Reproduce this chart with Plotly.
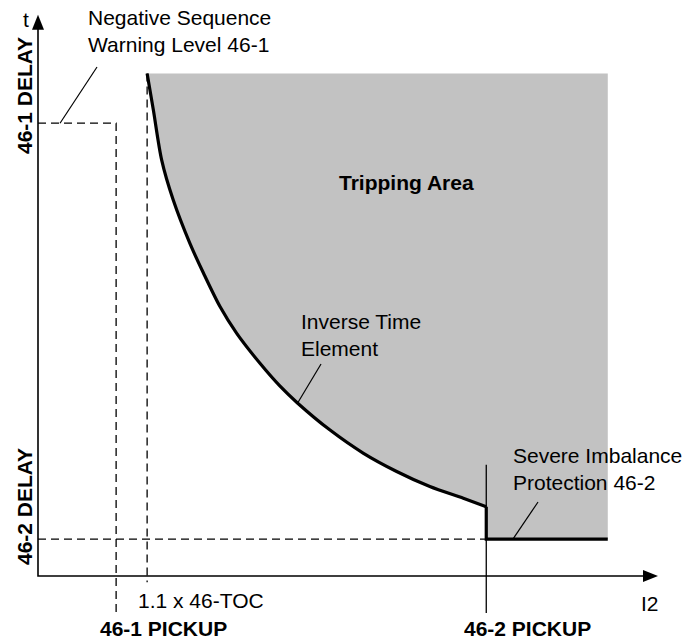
import plotly.graph_objects as go

# ---- data (arbitrary I2 / t units) ----
curve_i2 = [17.6, 18.6, 19.95, 21.8, 24.5, 26.7, 29.35, 32.05, 35.8, 39.0, 41.8,
            47.1, 52.5, 57.85, 63.2, 68.6, 72.3]
curve_t = [89.9, 83.4, 74.4, 67.3, 59.5, 54.15, 48.2, 43.4, 38.05, 34.0, 31.0,
           26.1, 21.95, 18.7, 16.0, 13.9, 12.4]

pickup_46_1 = 12.6      # 46-1 PICKUP
toc_1_1 = 17.6          # 1.1 x 46-TOC
pickup_46_2 = 72.3      # 46-2 PICKUP
delay_46_1 = 81.0       # 46-1 DELAY
delay_46_2 = 6.6        # 46-2 DELAY
i2_end = 91.9           # right end of tripping area
t_top = 89.9            # top of tripping area
axis_len_x = 100.0
axis_len_y = 100.4

# pixel mapping: origin at (38, 576), 6.2 px per x unit, 5.59 px per y unit
W, H = 683, 641
X0, Y0, SX, SY = 38, 576, 6.2, 5.59
xr = [-X0 / SX, (W - X0) / SX]
yr = [(Y0 - H) / SY, Y0 / SY]

FONT = "Liberation Sans, Arial, sans-serif"
BLACK = "#000000"
GREY = "#c2c2c2"

fig = go.Figure()

# shaded tripping area
fx = curve_i2 + [pickup_46_2, i2_end, i2_end, curve_i2[0]]
fy = curve_t + [delay_46_2, delay_46_2, t_top, t_top]
fig.add_trace(go.Scatter(x=fx, y=fy, fill="toself", fillcolor=GREY, mode="lines",
                         line=dict(width=0, color=GREY), hoverinfo="skip"))

dash = "8px,5px"
below = -6.6
# 46-1 delay / pickup dashed
fig.add_trace(go.Scatter(x=[0, pickup_46_1, pickup_46_1], y=[delay_46_1, delay_46_1, below],
                         mode="lines", line=dict(color=BLACK, width=1.3, dash=dash)))
# 1.1 x 46-TOC dashed
fig.add_trace(go.Scatter(x=[toc_1_1, toc_1_1], y=[t_top, -1.1],
                         mode="lines", line=dict(color=BLACK, width=1.3, dash=dash)))
# 46-2 delay dashed
fig.add_trace(go.Scatter(x=[0, pickup_46_2], y=[delay_46_2, delay_46_2],
                         mode="lines", line=dict(color=BLACK, width=1.3, dash=dash)))
# 46-2 pickup solid thin
fig.add_trace(go.Scatter(x=[pickup_46_2, pickup_46_2], y=[19.9, below],
                         mode="lines", line=dict(color=BLACK, width=1.3)))

# inverse time curve (thick)
fig.add_trace(go.Scatter(x=curve_i2, y=curve_t, mode="lines",
                         line=dict(color=BLACK, width=3.2, shape="spline", smoothing=0.8)))
# severe imbalance step
fig.add_trace(go.Scatter(x=[pickup_46_2, pickup_46_2, i2_end],
                         y=[curve_t[-1], delay_46_2, delay_46_2], mode="lines",
                         line=dict(color=BLACK, width=3.2)))

# axes
fig.add_trace(go.Scatter(x=[0, 0, axis_len_x - 2], y=[axis_len_y - 2, 0, 0], mode="lines",
                         line=dict(color=BLACK, width=1.6)))

shapes = []
# arrowheads
ax_w = 6 / SY
ay_w = 6 / SX
shapes.append(dict(type="path", xref="x", yref="y",
                   path=f"M {axis_len_x},0 L {axis_len_x - 15/SX},{ax_w} L {axis_len_x - 15/SX},{-ax_w} Z",
                   fillcolor=BLACK, line=dict(width=0)))
shapes.append(dict(type="path", xref="x", yref="y",
                   path=f"M 0,{axis_len_y} L {ay_w},{axis_len_y - 15/SY} L {-ay_w},{axis_len_y - 15/SY} Z",
                   fillcolor=BLACK, line=dict(width=0)))
# leader lines
for (x1, y1, x2, y2) in [(9.52, 91.06, 3.55, delay_46_1),
                         (45.65, 37.93, 41.9, 31.0),
                         (80.65, 13.24, 76.6, delay_46_2)]:
    shapes.append(dict(type="line", xref="x", yref="y", x0=x1, y0=y1, x1=x2, y1=y2,
                       line=dict(color=BLACK, width=1.2)))


def P(px, py):
    return px / W, 1 - py / H


ann = []


def text(t, px, py, xanchor="left", bold=False, angle=0, size=21):
    x, y = P(px, py)
    ann.append(dict(text=f"<b>{t}</b>" if bold else t, x=x, y=y, xref="paper", yref="paper",
                    xanchor=xanchor, yanchor="middle", showarrow=False, textangle=angle,
                    align="left", font=dict(family=FONT, size=size, color=BLACK)))


text("Negative Sequence<br>Warning Level 46-1", 86, 31)
text("Tripping Area", 406, 182, xanchor="center", bold=True)
text("Inverse Time<br>Element", 299, 335)
text("Severe Imbalance<br>Protection 46-2", 511, 469)
text("1.1 x 46-TOC", 136, 600)
text("46-1 PICKUP", 163, 628, xanchor="center", bold=True)
text("46-2 PICKUP", 527, 628, xanchor="center", bold=True)
text("I2", 650, 603, xanchor="center")
text("t", 26, 20, xanchor="center")
text("46-1 DELAY", 24, 96, xanchor="center", bold=True, angle=-90)
text("46-2 DELAY", 24, 507, xanchor="center", bold=True, angle=-90)

fig.update_layout(
    width=W, height=H, margin=dict(l=0, r=0, t=0, b=0),
    paper_bgcolor="white", plot_bgcolor="white", showlegend=False,
    xaxis=dict(range=xr, visible=False, fixedrange=True),
    yaxis=dict(range=yr, visible=False, fixedrange=True),
    shapes=shapes, annotations=ann,
)

fig.write_html("out.html", config=dict(displayModeBar=False),
               post_script="document.body.style.margin='0';document.body.style.overflow='hidden';")
